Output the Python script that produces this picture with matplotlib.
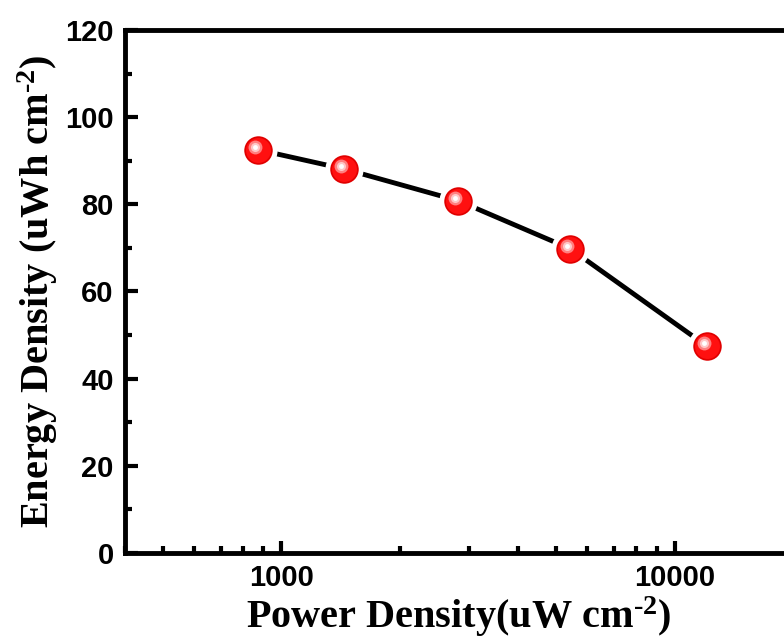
import matplotlib
matplotlib.use("Agg")
import matplotlib.pyplot as plt
import matplotlib.ticker as mticker
from matplotlib import font_manager
from matplotlib.transforms import offset_copy

# Data
power_density = [874, 1446, 2820, 5430, 12060]      # uW cm^-2
energy_density = [92.5, 88.1, 80.8, 69.8, 47.5]     # uWh cm^-2

# pick the regular-width Liberation Sans Bold (not the Narrow one)
sans_bold = None
for f in font_manager.findSystemFonts():
    if f.endswith('LiberationSans-Bold.ttf'):
        sans_bold = f
        break
if sans_bold:
    tick_font = font_manager.FontProperties(fname=sans_bold, size=21)
else:
    tick_font = font_manager.FontProperties(family='DejaVu Sans', weight='bold', size=19)

plt.rcParams['mathtext.fontset'] = 'custom'
plt.rcParams['mathtext.rm'] = 'Liberation Serif:bold'
plt.rcParams['mathtext.it'] = 'Liberation Serif:bold'
plt.rcParams['mathtext.bf'] = 'Liberation Serif:bold'

fig = plt.figure(figsize=(7.84, 6.43), dpi=100)
ax = fig.add_axes([0.1594, 0.14, 0.852, 0.8134])

# line with gaps around the markers (white marker edge)
ax.plot(power_density, energy_density, color='black', lw=3.5, zorder=2)
ax.plot(power_density, energy_density, ls='none', marker='o', ms=24,
        mfc='#e00000', mec='white', mew=3.5, zorder=3)
ax.plot(power_density, energy_density, ls='none', marker='o', ms=18,
        mfc='#ff1010', mec='none', zorder=4)
# specular highlight
hl = offset_copy(ax.transData, fig=fig, x=-3, y=3, units='dots')
ax.plot(power_density, energy_density, ls='none', marker='o', ms=10,
        mfc='#ff8080', mec='none', transform=hl, zorder=5)
ax.plot(power_density, energy_density, ls='none', marker='o', ms=6.5,
        mfc='#ffc8c8', mec='none', transform=hl, zorder=6)
ax.plot(power_density, energy_density, ls='none', marker='o', ms=3.5,
        mfc='#ffffff', mec='none', transform=hl, zorder=7)

ax.set_xscale('log')
ax.set_xlim(400, 20000)
ax.set_ylim(0, 120)

ax.xaxis.set_major_locator(mticker.FixedLocator([1000, 10000]))
ax.xaxis.set_major_formatter(mticker.FuncFormatter(lambda v, p: '%d' % v))
ax.xaxis.set_minor_locator(mticker.LogLocator(base=10, subs=range(2, 10)))
ax.xaxis.set_minor_formatter(mticker.NullFormatter())
ax.yaxis.set_major_locator(mticker.MultipleLocator(20))
ax.yaxis.set_minor_locator(mticker.MultipleLocator(10))

for s in ax.spines.values():
    s.set_linewidth(3.5)

ax.tick_params(which='both', direction='in', width=3, top=False, right=False)
ax.tick_params(which='major', length=9, pad=8)
ax.tick_params(which='minor', length=5)
for lab in ax.get_xticklabels() + ax.get_yticklabels():
    lab.set_fontproperties(tick_font)

ax.set_xlabel(r'Power Density(uW cm$^{\text{-2}}$)', fontfamily='Liberation Serif',
              fontweight='bold', fontsize=29, labelpad=2)
ax.set_ylabel(r'Energy Density (uWh cm$^{\text{-2}}$)', fontfamily='Liberation Serif',
              fontweight='bold', fontsize=29, labelpad=4)

fig.savefig('out.png', dpi=100)
